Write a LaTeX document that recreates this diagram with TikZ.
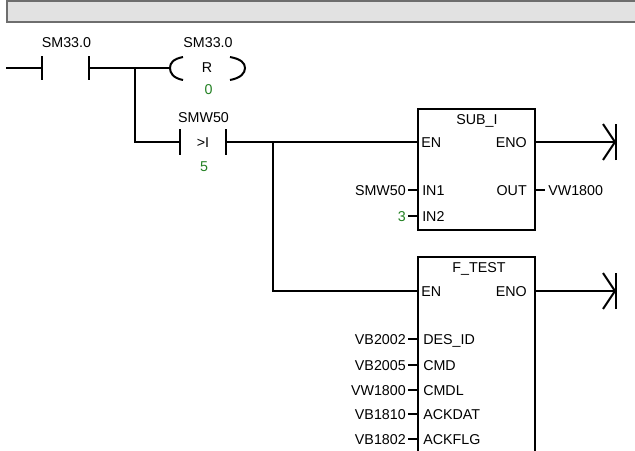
\documentclass[tikz,border=0pt]{standalone}
\usepackage{fontspec}
\setmainfont{Liberation Sans}
\definecolor{plcgreen}{RGB}{34,128,34}
\definecolor{barfill}{RGB}{226,226,226}
\definecolor{barline}{RGB}{110,110,110}
\begin{document}
\begin{tikzpicture}[x=0.75pt,y=-0.75pt,
  wire/.style={line width=1.5pt},
  lbl/.style={font=\fontsize{10.7}{12}\selectfont, inner sep=0pt, text height=7.6pt, text depth=0pt},
  num/.style={lbl, text=plcgreen},
  fblock/.style={draw, line width=1.5pt, inner sep=0pt, anchor=north west}]
\useasboundingbox (0,0) rectangle (635,450);
\clip (0,0) rectangle (635,450);
% top bar
\path[fill=barfill, draw=barline, line width=1.5pt] (7,1) rectangle (650,22);

% coordinates
\coordinate (r1s) at (6,68);
\coordinate (c1l) at (42,68);
\coordinate (c1r) at (89,68);
\coordinate (b1) at (135,68);
\coordinate (coilL) at (170,68);
\coordinate (b1d) at (135,142);
\coordinate (c2l) at (180,142);
\coordinate (c2r) at (226,142);
\coordinate (b2) at (273,142);
\coordinate (b2d) at (273,291);

% blocks
\node[fblock, minimum width=117*0.75pt, minimum height=121*0.75pt] (sub) at (417,108) {};
\node[fblock, minimum width=117*0.75pt, minimum height=220*0.75pt] (ft) at (417,256) {};

\coordinate (subEN) at (417,142);
\coordinate (subENO) at (534,142);
\coordinate (ftEN) at (417,291);
\coordinate (ftENO) at (534,291);
\coordinate (stop1) at (616,142);
\coordinate (stop2) at (616,291);

% rung 1
\draw[wire] (r1s) -- (c1l);
\draw[wire] (42,56) -- (42,80);
\draw[wire] (89,56) -- (89,80);
\draw[wire] (c1r) -- (coilL);
\draw[wire] (183,57) .. controls (173,59) and (170,63) .. (170,68) .. controls (170,73) and (173,78) .. (183,80);
\draw[wire] (230,57) .. controls (241,59) and (245,63) .. (245,68) .. controls (245,73) and (241,78) .. (230,80);
\draw[wire] (b1) -- (b1d) -- (c2l);
\draw[wire] (180,129) -- (180,155);
\draw[wire] (226,129) -- (226,155);
\draw[wire] (c2r) -- (subEN);
\draw[wire] (b2) -- (b2d) -- (ftEN);
\draw[wire] (subENO) -- (stop1);
\draw[wire] (ftENO) -- (stop2);
\foreach \s in {stop1,stop2}{
  \draw[wire] ([yshift=-18*0.75pt]\s) -- ([yshift=18*0.75pt]\s);
  \draw[wire] ([xshift=-13*0.75pt,yshift=-18*0.75pt]\s) -- ([xshift=-1*0.75pt]\s) -- ([xshift=-13*0.75pt,yshift=18*0.75pt]\s);
}

% contact / coil labels
\node[lbl] (t1) at (66.5,42.5) {SM33.0};
\node[lbl] (t2) at (208,42.5) {SM33.0};
\node[lbl] (t3) at (207,67.5) {R};
\node[num] (t4) at (208.5,89) {0};
\node[lbl] (t5) at (203.5,117.5) {SMW50};
\node[lbl] (t6) at (203,142) {>I};
\node[num] (t7) at (204,166) {5};

% SUB_I
\node[lbl] (st) at (477,119.5) {SUB\_I};
\node[lbl, anchor=west] (sen) at (421,142) {EN};
\node[lbl, anchor=east] (seno) at (527,142) {ENO};
\node[lbl, anchor=west] (sin1) at (422,190) {IN1};
\node[lbl, anchor=west] (sin2) at (422,216) {IN2};
\node[lbl, anchor=east] (sout) at (527,190) {OUT};
\node[lbl, anchor=east] (vin1) at (406,190) {SMW50};
\node[num, anchor=east] (vin2) at (406,216) {3};
\node[lbl, anchor=west] (vout) at (548,190) {VW1800};
\draw[wire] (408,190) -- (417,190);
\draw[wire] (408,216) -- (417,216);
\draw[wire] (534,190) -- (545,190);

% F_TEST
\node[lbl] (ftt) at (479,267) {F\_TEST};
\node[lbl, anchor=west] (fen) at (421,291) {EN};
\node[lbl, anchor=east] (feno) at (527,291) {ENO};
\foreach \y/\p/\v in {339/DES\_ID/VB2002, 365/CMD/VB2005, 390/CMDL/VW1800, 414/ACKDAT/VB1810, 439/ACKFLG/VB1802}{
  \node[lbl, anchor=west] at (423,\y) {\p};
  \node[lbl, anchor=east] at (406,\y) {\v};
  \draw[wire] (408,\y) -- (417,\y);
}
\end{tikzpicture}
\end{document}
